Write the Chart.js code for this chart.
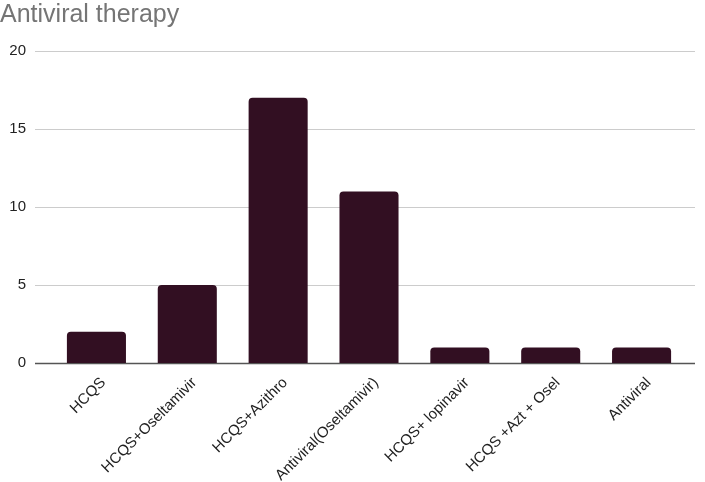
<!DOCTYPE html>
<html>
<head>
<meta charset="utf-8">
<script src="https://cdn.jsdelivr.net/npm/chart.js@4/dist/chart.umd.min.js"></script>
<style>
  html, body { margin: 0; padding: 0; background: #fff; }
  #wrap { width: 705px; height: 482px; position: relative; }
</style>
</head>
<body>
<div id="wrap"><canvas id="chart1"></canvas></div>
<script>
(function(){
  'use strict';

  var categories = ['HCQS', 'HCQS+Oseltamivir', 'HCQS+Azithro', 'Antiviral(Oseltamivir)', 'HCQS+ lopinavir', 'HCQS +Azt + Osel', 'Antiviral'];
  var counts = [2, 5, 17, 11, 1, 1, 1];
  var yTicks = [0, 5, 10, 15, 20];

  // grid lines in sheets run a bit wider than the bars' band
  var wideGrid = {
    id: 'wideGrid',
    beforeDatasetsDraw: function(chart) {
      var ctx = chart.ctx;
      var y = chart.scales.y;
      ctx.save();
      yTicks.forEach(function(v) {
        var py = Math.round(y.getPixelForValue(v)) + 0.5;
        ctx.beginPath();
        ctx.strokeStyle = v === 0 ? '#555555' : '#cccccc';
        ctx.lineWidth = v === 0 ? 1.5 : 1;
        ctx.moveTo(35, py);
        ctx.lineTo(695, py);
        ctx.stroke();
      });
      ctx.restore();
    }
  };

  // sheets hangs the rotated labels a little right of the tick
  var nudgeLabels = {
    id: 'nudgeLabels',
    beforeDraw: function(chart) {
      var items = chart.scales.x.getLabelItems();
      if (items._nudged) return;
      items.forEach(function(it) { it.options.translation[0] += 7; });
      items._nudged = true;
    }
  };

  var c1 = document.getElementById('chart1');

  var chart1 = new Chart(c1, {
    type: 'bar',
    data: {
      labels: categories,
      datasets: [{
        data: counts,
        backgroundColor: '#320f22',
        borderRadius: 4,
        barPercentage: 0.65,
        categoryPercentage: 1
      }]
    },
    options: {
      responsive: true,
      maintainAspectRatio: false,
      animation: false,
      layout: { padding: { left: 0, right: 18, top: 0, bottom: 0 } },
      plugins: {
        legend: { display: false },
        tooltip: { enabled: false },
        title: {
          display: true,
          text: 'Antiviral therapy',
          align: 'start',
          color: '#757575',
          font: { family: 'Arial, "Liberation Sans"', size: 25, weight: 'normal' },
          padding: { top: 0, bottom: 21 }
        }
      },
      scales: {
        y: {
          min: 0,
          max: 20,
          afterBuildTicks: function(scale) {
            scale.ticks = yTicks.map(function(v) { return { value: v }; });
          },
          afterFit: function(scale) { scale.width = 51; },
          grid: { display: false },
          border: { display: false },
          ticks: {
            color: '#222222',
            padding: 17,
            font: { family: 'Arial, "Liberation Sans"', size: 15 }
          }
        },
        x: {
          afterFit: function(scale) { scale.height = 119; },
          grid: { display: false },
          border: { display: false },
          ticks: {
            color: '#222222',
            minRotation: 45,
            maxRotation: 45,
            autoSkip: false,
            padding: 3,
            font: { family: 'Arial, "Liberation Sans"', size: 15 }
          }
        }
      }
    },
    plugins: [wideGrid, nudgeLabels]
  });

}());
</script>
</body>
</html>
